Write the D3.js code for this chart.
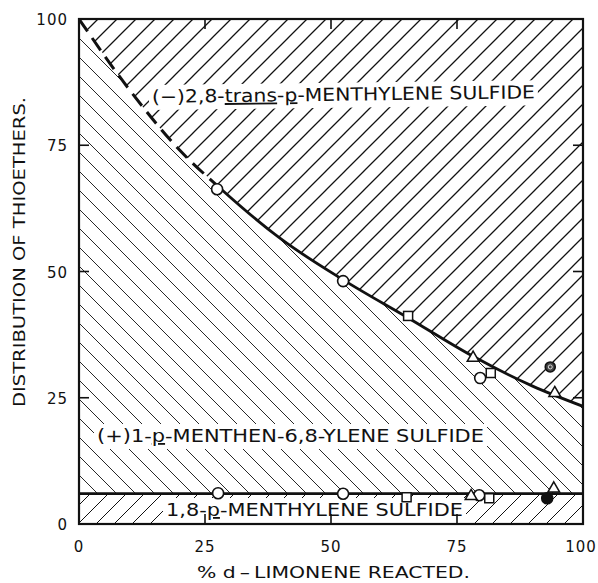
<!DOCTYPE html>
<html>
<head>
<meta charset="utf-8">
<script src="https://cdn.jsdelivr.net/npm/d3@7"></script>
<style>
  body { margin: 0; background: #fff; }
  text { font-family: "DejaVu Sans", sans-serif; fill: #111; }
</style>
</head>
<body>
<div id="chart"></div>
<script>
// tick labels on both axes
var ticks = [0, 25, 50, 75, 100];
var innerTicks = [25, 50, 75];

// fitted curve for the trans sulfide boundary
var curveX = [0, 10, 20, 28, 40, 53, 65, 78, 90, 100];
var curveY = [100, 86, 74, 66.5, 56.5, 48, 41, 33.3, 27.3, 23.3];
var dashedUntil = 28;   // curve is dashed up to here

// 1,8-p-menthylene sulfide level
var lowerLevel = 6;

// observed points, upper curve
var upCircles = [[27.4, 66.3], [52.4, 48.1], [79.6, 28.9]];
var upSquares = [[65.3, 41.2], [81.7, 29.9]];
var upTriangles = [[78.2, 32.9], [94.4, 25.9]];
var upDotted = [[93.5, 31.1]];

// observed points, lower line
var lowCircles = [[27.6, 6.1], [52.4, 6.0], [79.4, 5.7]];
var lowSquares = [[65.0, 5.3], [81.4, 5.1]];
var lowTriangles = [[77.8, 5.5], [94.2, 7.0]];
var lowFilled = [[92.9, 5.1]];

var width = 598;
var height = 583;

var svg = d3.select("#chart").append("svg")
  .attr("width", width)
  .attr("height", height);

var x = d3.scaleLinear().domain([0, 100]).range([79, 583]);
var y = d3.scaleLinear().domain([0, 100]).range([524, 19]);

var curve = curveX.map(function(d, i) { return [d, curveY[i]]; });

// hatch patterns
var defs = svg.append("defs");
function hatch(id, s, dir, sw) {
  var p = defs.append("pattern")
    .attr("id", id)
    .attr("patternUnits", "userSpaceOnUse")
    .attr("x", 79).attr("y", 19)
    .attr("width", s).attr("height", s);
  var d;
  if (dir == "/")
    d = "M-2,2 l4,-4 M0," + s + " l" + s + ",-" + s + " M" + (s - 2) + "," + (s + 2) + " l4,-4";
  else
    d = "M-2," + (s - 2) + " l4,4 M0,0 l" + s + "," + s + " M" + (s - 2) + ",-2 l4,4";
  p.append("path").attr("d", d).attr("stroke", "#111").attr("stroke-width", sw);
}
hatch("hTop", 19, "/", 1.3);
hatch("hMid", 19, "\\", 0.9);
hatch("hBot", 18, "/", 1.0);

var smooth = d3.curveMonotoneX;

// upper region (trans)
svg.append("path")
  .datum(curve)
  .attr("d", d3.area().curve(smooth)
    .x(d => x(d[0])).y0(y(100)).y1(d => y(d[1])))
  .attr("fill", "url(#hTop)");

// middle region
svg.append("path")
  .datum(curve)
  .attr("d", d3.area().curve(smooth)
    .x(d => x(d[0])).y0(y(lowerLevel)).y1(d => y(d[1])))
  .attr("fill", "url(#hMid)");

// lower region
svg.append("rect")
  .attr("x", x(0)).attr("y", y(lowerLevel))
  .attr("width", x(100) - x(0)).attr("height", y(0) - y(lowerLevel))
  .attr("fill", "url(#hBot)");

// boundary curve: dashed then solid, clipped by x
var line = d3.line().curve(smooth).x(d => x(d[0])).y(d => y(d[1]));
defs.append("clipPath").attr("id", "cDash").append("rect")
  .attr("x", x(0)).attr("y", 0).attr("width", x(dashedUntil) - x(0)).attr("height", height);
defs.append("clipPath").attr("id", "cSolid").append("rect")
  .attr("x", x(dashedUntil)).attr("y", 0).attr("width", x(100) - x(dashedUntil)).attr("height", height);

svg.append("path").datum(curve).attr("d", line)
  .attr("clip-path", "url(#cDash)")
  .attr("fill", "none").attr("stroke", "#111").attr("stroke-width", 3)
  .attr("stroke-dasharray", "15,8");
svg.append("path").datum(curve).attr("d", line)
  .attr("clip-path", "url(#cSolid)")
  .attr("fill", "none").attr("stroke", "#111").attr("stroke-width", 2.8);

// lower level line
svg.append("line")
  .attr("x1", x(0)).attr("x2", x(100))
  .attr("y1", y(lowerLevel)).attr("y2", y(lowerLevel))
  .attr("stroke", "#111").attr("stroke-width", 2.8);

// region labels with white backing
function label(txt, x0, base, len, rot) {
  var g = svg.append("g")
    .attr("transform", "rotate(" + rot + "," + x0 + "," + base + ")");
  var bg = g.append("rect").attr("fill", "#fff");
  var t = g.append("text")
    .attr("x", x0).attr("y", base)
    .attr("font-size", 18)
    .attr("textLength", len)
    .attr("lengthAdjust", "spacingAndGlyphs");
  txt.forEach(function(part) {
    var s = t.append("tspan").text(part[0]);
    if (part[1]) s.attr("text-decoration", "underline");
  });
  var b = t.node().getBBox();
  bg.attr("x", b.x - 3).attr("y", b.y - 1).attr("width", b.width + 6).attr("height", b.height + 4);
}
label([["(\u2212)2,8-"], ["trans", true], ["-"], ["p", true], ["-MENTHYLENE SULFIDE"]], 152, 103, 383, -0.7);
label([["(+)1-"], ["p", true], ["-MENTHEN-6,8-YLENE SULFIDE"]], 97, 442, 387, 0);
label([["1,8-"], ["p", true], ["-MENTHYLENE SULFIDE"]], 166, 516, 297, 0);

// markers
function circles(data, fill, r) {
  svg.selectAll(null).data(data).enter().append("circle")
    .attr("cx", d => x(d[0])).attr("cy", d => y(d[1]))
    .attr("r", r).attr("fill", fill)
    .attr("stroke", "#111").attr("stroke-width", 1.6);
}
function squares(data) {
  svg.selectAll(null).data(data).enter().append("rect")
    .attr("x", d => x(d[0]) - 4.5).attr("y", d => y(d[1]) - 4.5)
    .attr("width", 9).attr("height", 9)
    .attr("fill", "#fff").attr("stroke", "#111").attr("stroke-width", 1.5);
}
function triangles(data) {
  svg.selectAll(null).data(data).enter().append("path")
    .attr("transform", d => "translate(" + x(d[0]) + "," + y(d[1]) + ")")
    .attr("d", d3.symbol().type(d3.symbolTriangle).size(60))
    .attr("fill", "#fff").attr("stroke", "#111").attr("stroke-width", 1.5);
}
circles(upCircles, "#fff", 5.5);
squares(upSquares);
triangles(upTriangles);
circles(upDotted, "#444", 5);
svg.selectAll(null).data(upDotted).enter().append("circle")
  .attr("cx", d => x(d[0])).attr("cy", d => y(d[1])).attr("r", 2)
  .attr("fill", "none").attr("stroke", "#ddd").attr("stroke-width", 1);

circles(lowCircles, "#fff", 5.5);
squares(lowSquares);
triangles(lowTriangles);
circles(lowFilled, "#111", 5.5);

// frame
svg.append("rect")
  .attr("x", x(0)).attr("y", y(100))
  .attr("width", x(100) - x(0)).attr("height", y(0) - y(100))
  .attr("fill", "none").attr("stroke", "#111").attr("stroke-width", 2.2);

// inward ticks on all four sides
var tk = 10;
innerTicks.forEach(function(v) {
  svg.append("line").attr("x1", x(0)).attr("x2", x(0) + tk).attr("y1", y(v)).attr("y2", y(v));
  svg.append("line").attr("x1", x(100)).attr("x2", x(100) - tk).attr("y1", y(v)).attr("y2", y(v));
  svg.append("line").attr("x1", x(v)).attr("x2", x(v)).attr("y1", y(0)).attr("y2", y(0) - tk);
  svg.append("line").attr("x1", x(v)).attr("x2", x(v)).attr("y1", y(100)).attr("y2", y(100) + tk);
});
svg.selectAll("line").filter(function() { return !this.getAttribute("stroke"); })
  .attr("stroke", "#111").attr("stroke-width", 1.6);

// tick labels
svg.selectAll(null).data(ticks).enter().append("text")
  .attr("x", 68).attr("y", d => y(d) + 6)
  .attr("text-anchor", "end")
  .attr("font-size", 15).attr("letter-spacing", 1)
  .text(d => d);
svg.selectAll(null).data(ticks).enter().append("text")
  .attr("x", d => x(d) + (d == 100 ? -2 : 0)).attr("y", 552)
  .attr("text-anchor", "middle")
  .attr("font-size", 15).attr("letter-spacing", 1)
  .text(d => d);

// axis titles
svg.append("text")
  .attr("transform", "translate(25,407) rotate(-90)")
  .attr("font-size", 15)
  .attr("textLength", 310).attr("lengthAdjust", "spacingAndGlyphs")
  .text("DISTRIBUTION OF THIOETHERS.");
svg.append("text")
  .attr("x", 197).attr("y", 578)
  .attr("font-size", 16)
  .attr("textLength", 273).attr("lengthAdjust", "spacingAndGlyphs")
  .text("% d\u2009\u2013\u2009LIMONENE  REACTED.");
</script>
</body>
</html>
